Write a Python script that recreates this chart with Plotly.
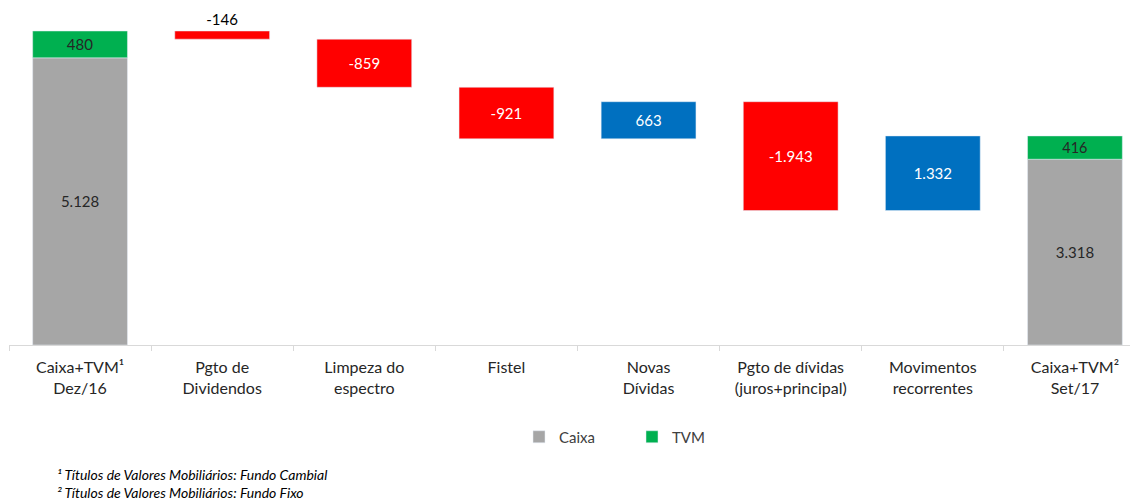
import plotly.graph_objects as go

# categories (x axis)
categories = [
    "Caixa+TVM¹<br>Dez/16",
    "Pgto de<br>Dividendos",
    "Limpeza do<br>espectro",
    "Fistel",
    "Novas<br>Dívidas",
    "Pgto de dívidas<br>(juros+principal)",
    "Movimentos<br>recorrentes",
    "Caixa+TVM²<br>Set/17",
]

# start / end balances
caixa_start, tvm_start = 5128, 480
caixa_end, tvm_end = 3318, 416

# movements in between
deltas = [-146, -859, -921, 663, -1943, 1332]

footnotes = [
    "¹ Títulos de Valores Mobiliários: Fundo Cambial",
    "² Títulos de Valores Mobiliários: Fundo Fixo",
]

C_GRAY = "#A6A6A6"
C_GREEN = "#00B050"
C_RED = "#FF0000"
C_BLUE = "#0070C0"
FONT = "Lato"

# page body has an 8px margin, so plot area is offset by it
PLOT_L, PLOT_W = 9, 1137
BASE_Y, PLOT_H = 345, 335


def fmt(v):
    return f"{v:,}".replace(",", ".")


def px_x(x):
    return (x - PLOT_L) / PLOT_W


def px_y(y):
    return (BASE_Y - y) / PLOT_H


# floating bars: base + height
bases, heights, colors, texts, tpos, tcol = [], [], [], [], [], []
level = caixa_start + tvm_start
for d in deltas:
    new = level + d
    bases.append(min(level, new))
    heights.append(abs(d))
    colors.append(C_RED if d < 0 else C_BLUE)
    texts.append(fmt(d))
    small = abs(d) < 300
    tpos.append("outside" if small else "inside")
    tcol.append("black" if small else "white")
    level = new

fig = go.Figure()

fig.add_trace(go.Bar(
    x=[categories[0], categories[-1]], y=[caixa_start, caixa_end],
    name="Caixa", marker_color=C_GRAY, width=0.667,
    text=[fmt(caixa_start), fmt(caixa_end)], textposition="inside",
    insidetextanchor="middle", textfont=dict(color="#262626", size=15, family=FONT),
))
fig.add_trace(go.Bar(
    x=[categories[0], categories[-1]], y=[tvm_start, tvm_end],
    base=[caixa_start, caixa_end],
    name="TVM", marker_color=C_GREEN, width=0.667,
    text=[fmt(tvm_start), fmt(tvm_end)], textposition="inside",
    insidetextanchor="middle", textfont=dict(color="#262626", size=15, family=FONT),
))
fig.add_trace(go.Bar(
    x=categories[1:-1], y=heights, base=bases,
    marker_color=colors, width=0.667, showlegend=False,
    text=texts, textposition=tpos, insidetextanchor="middle",
    textfont=dict(color=tcol, size=15, family=FONT),
    cliponaxis=False,
))

fig.update_layout(
    width=1138, height=502,
    plot_bgcolor="white", paper_bgcolor="white",
    margin=dict(l=1, r=0, t=2, b=165),
    barmode="overlay",
    font=dict(family=FONT, size=15, color="#262626"),
    showlegend=True,
    legend=dict(orientation="h", x=px_x(519), xanchor="left", y=px_y(437), yanchor="middle",
                font=dict(size=15, color="#404040"), itemwidth=30,
                traceorder="normal", entrywidthmode="pixels", entrywidth=68),
)
fig.update_xaxes(
    type="category", categoryorder="array", categoryarray=categories,
    showline=True, linecolor="#D9D9D9", linewidth=1,
    ticks="outside", tickson="boundaries", ticklen=5, tickcolor="#D9D9D9",
    tickfont=dict(size=16, color="#262626"), ticklabelstandoff=8,
    range=[-0.5, 7.5],
)
fig.update_yaxes(range=[0, 5983], visible=False)

fig.add_annotation(
    text="<br>".join(f"<i>{n}</i>" for n in footnotes),
    xref="paper", yref="paper", x=px_x(55), y=px_y(483),
    xanchor="left", yanchor="middle", align="left", showarrow=False,
    font=dict(size=14, color="black"),
)

fig.write_html("out.html")
